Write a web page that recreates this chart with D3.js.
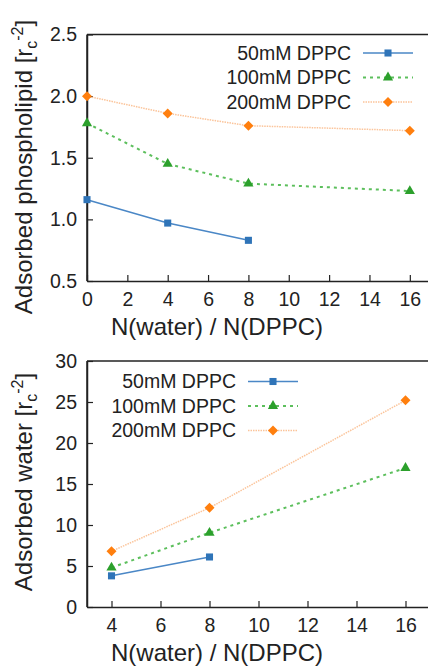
<!DOCTYPE html>
<html>
<head>
<meta charset="utf-8">
<script src="https://cdn.jsdelivr.net/npm/d3@7"></script>
<style>
body { margin: 0; background: #fff; }
text { font-family: "Liberation Sans", Arial, sans-serif; fill: #222; }
</style>
</head>
<body>
<svg></svg>
<script>
var width = 428;
var height = 666;

// series names
var seriesNames = ["50mM DPPC", "100mM DPPC", "200mM DPPC"];

// top panel: adsorbed phospholipid
var topX50 = [0, 4, 8];
var topY50 = [1.16, 0.97, 0.83];
var topX100 = [0, 4, 8, 16];
var topY100 = [1.78, 1.45, 1.29, 1.23];
var topX200 = [0, 4, 8, 16];
var topY200 = [2.0, 1.86, 1.76, 1.72];
var topXTicks = [0, 2, 4, 6, 8, 10, 12, 14, 16];
var topYTicks = [0.5, 1.0, 1.5, 2.0, 2.5];

// bottom panel: adsorbed water
var botX50 = [4, 8];
var botY50 = [3.8, 6.1];
var botX100 = [4, 8, 16];
var botY100 = [4.8, 9.05, 16.95];
var botX200 = [4, 8, 16];
var botY200 = [6.8, 12.1, 25.2];
var botXTicks = [4, 6, 8, 10, 12, 14, 16];
var botYTicks = [0, 5, 10, 15, 20, 25, 30];

// square rotated 45 degrees
var diamond = {
  draw: function(ctx, size) {
    var r = Math.sqrt(size / 2);
    ctx.moveTo(0, -r);
    ctx.lineTo(r, 0);
    ctx.lineTo(0, r);
    ctx.lineTo(-r, 0);
    ctx.closePath();
  }
};

var styles = [
  {line: "#4a87c6", mark: "#2f74b8", dash: null, width: 1.5, shape: d3.symbolSquare, size: 50},
  {line: "#5cbf5c", mark: "#2ca02c", dash: "3,4", width: 2, shape: d3.symbolTriangle, size: 45},
  {line: "#fbc49a", mark: "#ff7f0e", dash: "1.5,1", width: 1.5, shape: diamond, size: 50}
];

var svg = d3.select("svg")
            .attr("width", width)
            .attr("height", height);

function toPoints(xs, ys) {
  return xs.map((x, i) => ({x: x, y: ys[i]}));
}

function drawPanel(cfg) {
  var xScale = d3.scaleLinear()
                  .domain(cfg.xDomain)
                  .range([87, 430]);
  var yScale = d3.scaleLinear()
                  .domain(cfg.yDomain)
                  .range([cfg.bottom, cfg.top]);

  var g = svg.append("g");

  // frame (left, top, bottom)
  g.append("line")
    .attr("x1", 87).attr("x2", 87)
    .attr("y1", cfg.top).attr("y2", cfg.bottom)
    .attr("stroke", "#222").attr("stroke-width", 1.5);
  g.append("line")
    .attr("x1", 87).attr("x2", 430)
    .attr("y1", cfg.top).attr("y2", cfg.top)
    .attr("stroke", "#222").attr("stroke-width", 1.5);

  var xAxis = g.append("g")
    .attr("transform", "translate(0," + cfg.bottom + ")")
    .call(d3.axisBottom(xScale).tickValues(cfg.xTicks).tickSizeInner(-6).tickSizeOuter(0).tickPadding(11));
  var yAxis = g.append("g")
    .attr("transform", "translate(87,0)")
    .call(d3.axisLeft(yScale).tickValues(cfg.yTicks).tickFormat(cfg.yFormat).tickSizeInner(-6).tickSizeOuter(0).tickPadding(10));

  [xAxis, yAxis].forEach(a => {
    a.select(".domain").attr("stroke", "#222").attr("stroke-width", 1.5);
    a.selectAll(".tick line").attr("stroke", "#222").attr("stroke-width", 1.2);
    a.selectAll("text").style("font-size", "19.5px").style("font-family", "Liberation Sans, Arial, sans-serif").attr("fill", "#222");
  });

  var line = d3.line()
    .x(d => xScale(d.x))
    .y(d => yScale(d.y));

  cfg.series.forEach((s, i) => {
    var st = styles[i];
    g.append("path")
      .datum(s)
      .attr("fill", "none")
      .attr("stroke", st.line)
      .attr("stroke-width", st.width)
      .attr("stroke-dasharray", st.dash)
      .attr("d", line);
    g.selectAll(".m" + i)
      .data(s)
      .enter()
      .append("path")
        .attr("transform", d => "translate(" + xScale(d.x) + "," + yScale(d.y) + ")")
        .attr("d", d3.symbol().type(st.shape).size(st.size))
        .attr("fill", st.mark);
  });

  // legend
  seriesNames.forEach((name, i) => {
    var st = styles[i];
    var y = cfg.legY + i * 24.5;
    g.append("text")
      .attr("x", cfg.legX)
      .attr("y", y)
      .attr("dy", "0.35em")
      .style("text-anchor", "end")
      .style("font-size", "19.5px")
      .text(name);
    g.append("line")
      .attr("x1", cfg.legX + 12).attr("x2", cfg.legX + 62)
      .attr("y1", y).attr("y2", y)
      .attr("stroke", st.line)
      .attr("stroke-width", st.width)
      .attr("stroke-dasharray", st.dash);
    g.append("path")
      .attr("transform", "translate(" + (cfg.legX + 37) + "," + y + ")")
      .attr("d", d3.symbol().type(st.shape).size(st.size))
      .attr("fill", st.mark);
  });

  // axis labels
  g.append("text")
    .attr("x", 217)
    .attr("y", cfg.bottom + 54)
    .style("text-anchor", "middle")
    .style("font-size", "24px")
    .text("N(water) / N(DPPC)");

  var yl = g.append("text")
    .attr("transform", "translate(32," + cfg.labelMid + ") rotate(-90)")
    .style("text-anchor", "middle")
    .style("font-size", "24px");
  yl.append("tspan").text(cfg.yLabel + " [r");
  yl.append("tspan").attr("font-size", "16px").attr("dy", "5").text("c");
  yl.append("tspan").attr("font-size", "16px").attr("dy", "-14").text("-2");
  yl.append("tspan").attr("dy", "9").text("]");
}

drawPanel({
  top: 34.5, bottom: 281,
  xDomain: [0, 17], yDomain: [0.5, 2.5],
  xTicks: topXTicks, yTicks: topYTicks, yFormat: d3.format(".1f"),
  series: [toPoints(topX50, topY50), toPoints(topX100, topY100), toPoints(topX200, topY200)],
  legX: 351, legY: 53,
  yLabel: "Adsorbed phospholipid", labelMid: 167
});

drawPanel({
  top: 361, bottom: 607,
  xDomain: [3, 17], yDomain: [0, 30],
  xTicks: botXTicks, yTicks: botYTicks, yFormat: d3.format("d"),
  series: [toPoints(botX50, botY50), toPoints(botX100, botY100), toPoints(botX200, botY200)],
  legX: 236, legY: 381.5,
  yLabel: "Adsorbed water", labelMid: 482
});
</script>
</body>
</html>
